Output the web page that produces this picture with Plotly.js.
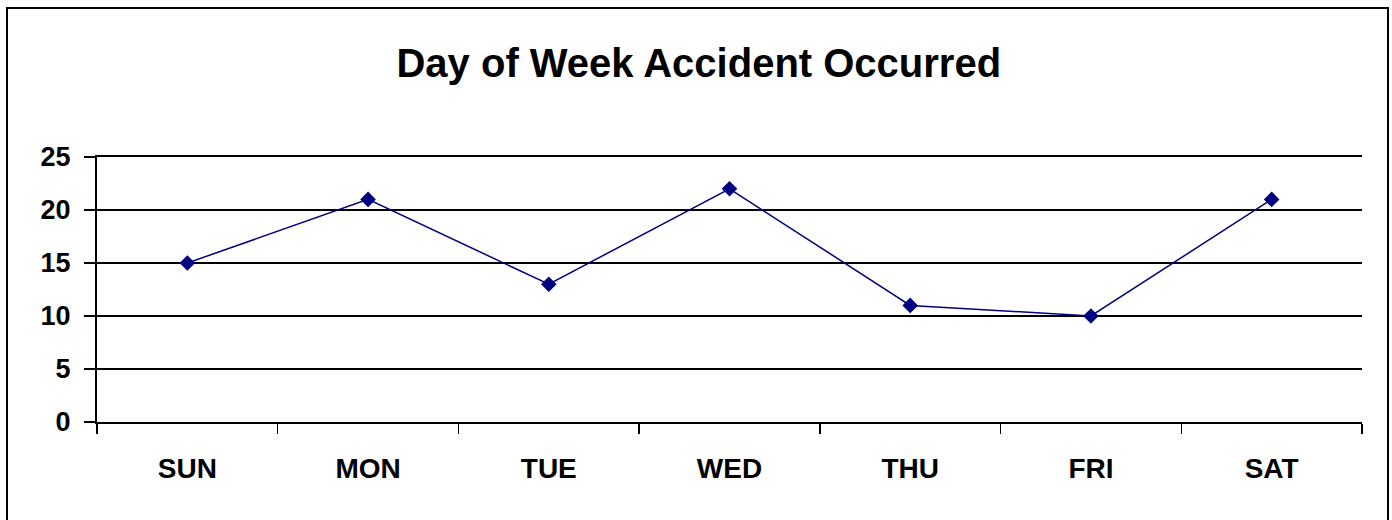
<!DOCTYPE html>
<html>
<head>
<meta charset="utf-8">
<script src="https://cdn.plot.ly/plotly-3.0.1.min.js"></script>
<style>html,body{margin:0;padding:0;background:#fff;}#chart{width:1392px;height:520px;}</style>
</head>
<body>
<div id="chart"></div>
<script>
const days = ["SUN", "MON", "TUE", "WED", "THU", "FRI", "SAT"];
const accidents = [15, 21, 13, 22, 11, 10, 21];
const yTicks = [0, 5, 10, 15, 20, 25];
const titleText = "Day of Week Accident Occurred";

const FONT = "Liberation Sans, Arial, Helvetica, sans-serif";

const trace = {
  x: days,
  y: accidents,
  type: "scatter",
  mode: "lines+markers",
  line: {color: "#000080", width: 1.5},
  marker: {symbol: "diamond", size: 12, color: "#000080"},
  hoverinfo: "x+y",
  cliponaxis: false
};

const layout = {
  width: 1392,
  height: 520,
  margin: {l: 97, r: 30, t: 157, b: 98},
  paper_bgcolor: "#ffffff",
  plot_bgcolor: "#ffffff",
  showlegend: false,
  title: {
    text: titleText,
    font: {family: FONT, size: 40, color: "#000", weight: "bold"},
    xref: "container", x: 0.502, xanchor: "center",
    yref: "container", y: 1 - 63/520, yanchor: "middle"
  },
  xaxis: {
    type: "category",
    range: [-0.5, 6.5],
    showline: true, linecolor: "#000", linewidth: 2, mirror: true,
    ticks: "outside", tickson: "boundaries", ticklen: 10, tickwidth: 1.5, tickcolor: "#000",
    showgrid: false,
    tickfont: {family: FONT, size: 28, color: "#000", weight: "bold"},
    ticklabelstandoff: 20,
    fixedrange: true
  },
  yaxis: {
    range: [0, 25],
    tickvals: yTicks,
    ticktext: yTicks.map(String),
    showline: true, linecolor: "#000", linewidth: 2,
    ticks: "outside", ticklen: 11, tickwidth: 1.5, tickcolor: "#000",
    showgrid: true, gridcolor: "#000", gridwidth: 2,
    zeroline: false,
    tickfont: {family: FONT, size: 27, color: "#000", weight: "bold"},
    ticklabelstandoff: 8,
    fixedrange: true
  },
  shapes: [{
    type: "rect", xref: "paper", yref: "paper",
    x0: (7 - 97) / 1265, x1: (1388 - 97) / 1265,
    y0: (422 - 540) / 265, y1: (422 - 8) / 265,
    line: {color: "#000", width: 2}, fillcolor: "rgba(0,0,0,0)", layer: "below"
  }]
};

Plotly.newPlot("chart", [trace], layout, {displayModeBar: false, staticPlot: true});
</script>
</body>
</html>
